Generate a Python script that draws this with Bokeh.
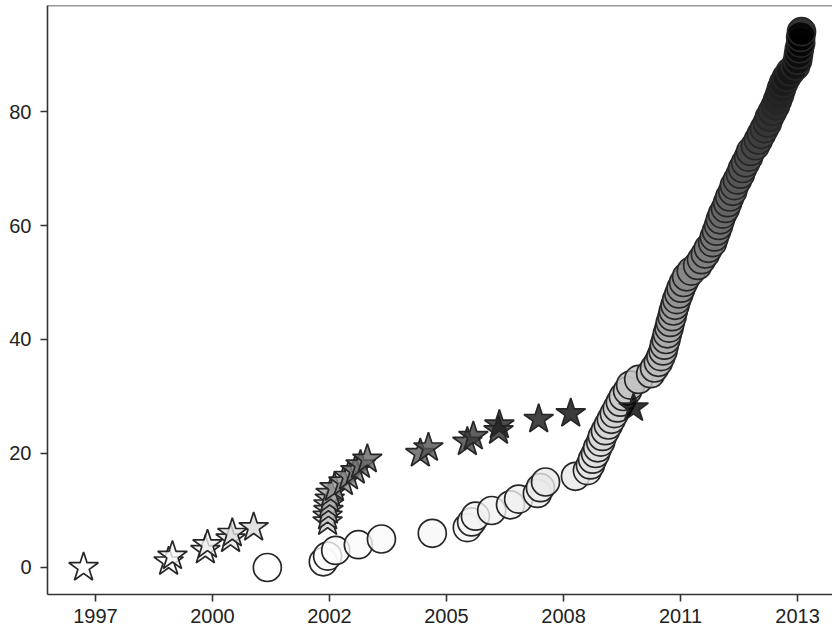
import numpy as np
from bokeh.plotting import figure
from bokeh.models import ColumnDataSource, LinearColorMapper, FixedTicker, Span, Range1d
from bokeh.embed import file_html
from bokeh.resources import INLINE
from bokeh.palettes import Greys9

# ---------------- data (dates as decimal years, cumulative counts) ----------------
star_years = [1997.10, 1999.09, 1999.18, 1999.95, 2000.00, 2000.54, 2000.58, 2001.08,
              2002.81, 2002.81, 2002.83, 2002.83, 2002.86, 2002.88, 2002.97, 2003.18,
              2003.30, 2003.46, 2003.58, 2003.74, 2004.98, 2005.17, 2006.08, 2006.22,
              2006.81, 2006.83, 2007.75, 2008.50, 2009.97]
star_counts = [0, 1, 2, 3, 4, 5, 6, 7, 8, 9, 10, 11, 12, 13, 14, 15, 16, 17, 18, 19,
               20, 21, 22, 23, 24, 25, 26, 27, 28]

circle_years = [2001.40, 2002.71, 2002.81, 2003.00, 2003.53, 2004.07, 2005.26, 2006.08,
                2006.18, 2006.27, 2006.65, 2007.09, 2007.28, 2007.72, 2007.79, 2007.91,
                2008.61, 2008.89, 2008.96, 2009.01, 2009.08, 2009.13, 2009.20, 2009.24,
                2009.31, 2009.38, 2009.45, 2009.52, 2009.59, 2009.66, 2009.73, 2009.83,
                2009.90, 2010.09, 2010.37, 2010.46, 2010.55, 2010.61, 2010.66, 2010.69,
                2010.73, 2010.76, 2010.80, 2010.83, 2010.87, 2010.90, 2010.94, 2010.98,
                2011.03, 2011.08, 2011.14, 2011.21, 2011.32, 2011.47, 2011.56, 2011.65,
                2011.72, 2011.82, 2011.86, 2011.91, 2011.96, 2012.00, 2012.05, 2012.12,
                2012.17, 2012.22, 2012.29, 2012.33, 2012.40, 2012.47, 2012.52, 2012.59,
                2012.66, 2012.71, 2012.82, 2012.89, 2012.96, 2013.03, 2013.10, 2013.15,
                2013.22, 2013.29, 2013.34, 2013.39, 2013.43, 2013.48, 2013.55, 2013.64,
                2013.76, 2013.81, 2013.83, 2013.85, 2013.88, 2013.88, 2013.90]
circle_counts = [0, 1, 2, 3, 4, 5, 6, 7, 8, 9, 10, 11, 12, 13, 14, 15, 16, 17, 18, 19,
                 20, 21, 22, 23, 24, 25, 26, 27, 28, 29, 30, 31, 32, 33, 34, 35, 36, 37,
                 38, 39, 40, 41, 42, 43, 44, 45, 46, 47, 48, 49, 50, 51, 52, 53, 54, 55,
                 56, 57, 58, 59, 60, 61, 62, 63, 64, 65, 66, 67, 68, 69, 70, 71, 72, 73,
                 74, 75, 76, 77, 78, 79, 80, 81, 82, 83, 84, 85, 86, 87, 88, 89, 90, 91,
                 92, 93, 94]

# x ticks: days since 1970-01-01, labelled by year
x_tick_days = [10000, 11000, 12000, 13000, 14000, 15000, 16000]
x_tick_labels = ["1997", "2000", "2002", "2005", "2008", "2011", "2013"]
y_ticks = [0, 20, 40, 60, 80]

# ---------------- helpers ----------------
DAY_MS = 86400000.0
def yr_to_ms(y):
    return (np.asarray(y, dtype=float) - 1970.0) * 365.2425 * DAY_MS

def interp_palette(stops, n=256):
    rgb = np.array([[int(c[i:i + 2], 16) for i in (1, 3, 5)] for c in stops], dtype=float)
    pos = np.linspace(0, 1, len(stops))
    t = np.linspace(0, 1, n)
    out = []
    for k in t:
        r, g, b = (np.interp(k, pos, rgb[:, j]) for j in range(3))
        out.append("#%02x%02x%02x" % (int(round(r)), int(round(g)), int(round(b))))
    return out

grey_pal = interp_palette(list(reversed(Greys9)))

star_src = ColumnDataSource(dict(x=yr_to_ms(star_years), y=star_counts, c=star_counts))
circ_src = ColumnDataSource(dict(x=yr_to_ms(circle_years), y=circle_counts, c=circle_counts))

star_map = LinearColorMapper(palette=grey_pal, low=min(star_counts), high=max(star_counts))
circ_map = LinearColorMapper(palette=grey_pal, low=min(circle_counts), high=max(circle_counts))

Y_TOP = 98.6
p = figure(width=832, height=633, x_axis_type="datetime",
           x_range=Range1d(9589.7 * DAY_MS, 16299.0 * DAY_MS),
           y_range=Range1d(-4.74, Y_TOP),
           output_backend="svg", toolbar_location=None,
           min_border_left=47, min_border_right=0, min_border_top=5, min_border_bottom=39)

p.outline_line_color = None
p.grid.visible = False
p.background_fill_color = "white"
p.border_fill_color = "white"

p.scatter("x", "y", source=circ_src, marker="circle", size=28,
          fill_color={"field": "c", "transform": circ_map}, fill_alpha=0.8,
          line_color="#262626", line_width=1.7)
p.scatter("x", "y", source=star_src, marker="star", size=31,
          fill_color={"field": "c", "transform": star_map}, fill_alpha=0.8,
          line_color="#262626", line_width=1.7)

top_spine = Span(location=Y_TOP, dimension="width", line_color="#333333", line_width=1.6)
p.add_layout(top_spine)

p.xaxis.ticker = FixedTicker(ticks=[d * DAY_MS for d in x_tick_days])
p.xaxis.major_label_overrides = {int(d * DAY_MS): lab for d, lab in zip(x_tick_days, x_tick_labels)}
p.yaxis.ticker = FixedTicker(ticks=y_ticks)

for ax in (p.xaxis[0], p.yaxis[0]):
    ax.axis_line_color = "#333333"
    ax.axis_line_width = 1.6
    ax.major_tick_line_color = "#333333"
    ax.major_tick_line_width = 1.6
    ax.major_tick_out = 7
    ax.major_tick_in = 0
    ax.minor_tick_out = 0
    ax.minor_tick_in = 0
    ax.major_label_text_font = "Liberation Sans"
    ax.major_label_text_font_size = "20px"
    ax.major_label_text_color = "#222222"

p.xaxis.major_label_standoff = 7
p.yaxis.major_label_standoff = 9

open("out.html", "w").write(file_html(p, INLINE))
